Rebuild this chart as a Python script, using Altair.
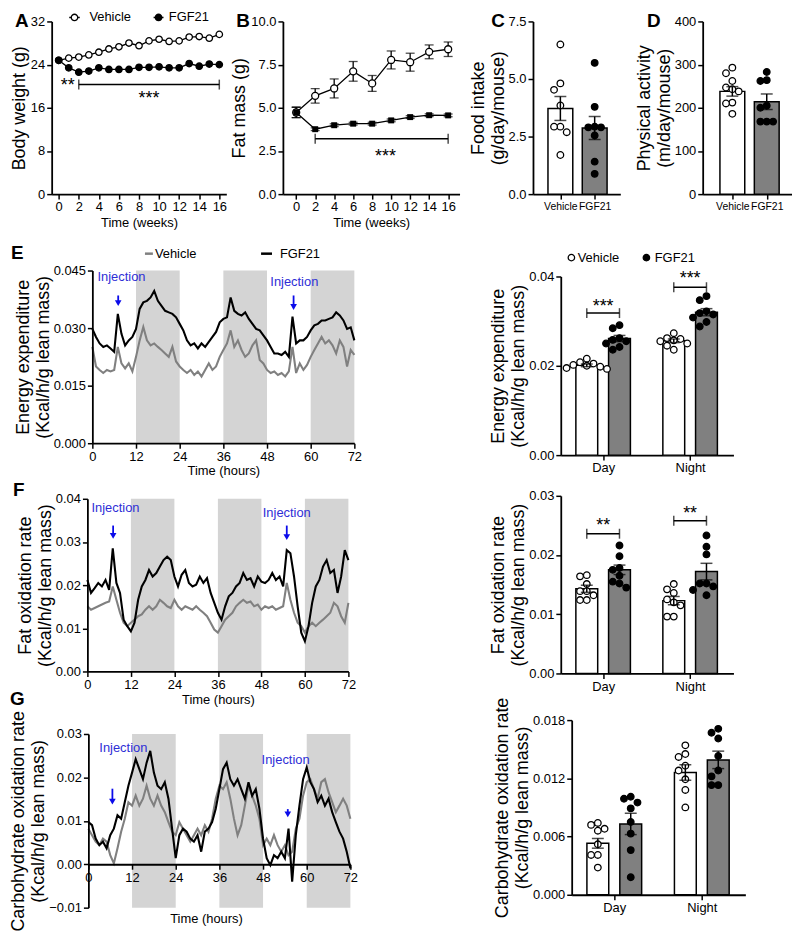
import altair as alt
import pandas as pd

FONT = "Liberation Sans, Arial, sans-serif"
GRAY_LINE = "#808080"
BAR_GRAY = "#808080"
BAND = "#d4d4d4"
BLUE_TXT = "#2e2ed6"
BLUE_ARW = "#0b0bea"
SERIES = ["Vehicle", "FGF21"]

# ---------------- data ----------------
weeks_A = list(range(17))
bw_vehicle = [24.8, 25.2, 25.4, 25.8, 26.3, 26.9, 27.3, 28.0, 27.5, 28.4, 28.7, 28.3, 28.4, 29.1, 29.2, 28.9, 29.6]
bw_fgf21 = [24.8, 23.4, 22.6, 22.8, 23.4, 23.1, 23.1, 23.1, 23.5, 23.5, 23.6, 23.4, 23.4, 24.2, 23.7, 24.1, 24.0]

weeks_B = [0, 2, 4, 6, 8, 10, 12, 14, 16]
fat_vehicle = [4.73, 5.69, 6.12, 7.11, 6.41, 7.77, 7.64, 8.24, 8.39]
fat_vehicle_sem = [0.30, 0.42, 0.55, 0.57, 0.46, 0.52, 0.52, 0.40, 0.42]
fat_fgf21 = [4.73, 3.76, 3.99, 4.08, 4.08, 4.27, 4.46, 4.57, 4.56]
fat_fgf21_sem = [0.30, 0.08, 0.08, 0.08, 0.08, 0.08, 0.08, 0.08, 0.08]

food_mean = [3.72, 2.87]
food_sem = [0.52, 0.50]
food_vehicle = [6.5, 4.81, 4.53, 3.85, 2.93, 2.93, 2.69, 1.7]
food_fgf21 = [5.7, 3.79, 2.9, 2.9, 2.93, 2.55, 1.41, 0.88]

act_mean = [238, 214]
act_sem = [11, 18]
act_vehicle = [293, 280, 262, 247, 243, 238, 212, 210, 186]
act_fgf21 = [283, 264, 262, 205, 200, 168, 168, 168]

hours = list(range(73))
ee_vehicle = [0.0251, 0.0200, 0.0191, 0.0183, 0.0191, 0.0187, 0.0191, 0.0251, 0.0208, 0.0195,
              0.0208, 0.0187, 0.0225, 0.0268, 0.0303, 0.0268, 0.0255, 0.0260, 0.0251, 0.0243,
              0.0234, 0.0225, 0.0251, 0.0213, 0.0200, 0.0191, 0.0183, 0.0191, 0.0178, 0.0187,
              0.0174, 0.0191, 0.0208, 0.0191, 0.0200, 0.0225, 0.0243, 0.0260, 0.0294, 0.0251,
              0.0268, 0.0243, 0.0225, 0.0234, 0.0255, 0.0268, 0.0217, 0.0208, 0.0191, 0.0183,
              0.0187, 0.0178, 0.0183, 0.0174, 0.0187, 0.0251, 0.0183, 0.0208, 0.0191, 0.0204,
              0.0225, 0.0243, 0.0260, 0.0277, 0.0260, 0.0268, 0.0255, 0.0234, 0.0268, 0.0251,
              0.0200, 0.0243, 0.0230]
ee_fgf21 = [0.0298, 0.0277, 0.0260, 0.0251, 0.0255, 0.0247, 0.0238, 0.0337, 0.0285, 0.0255,
            0.0268, 0.0277, 0.0298, 0.0350, 0.0367, 0.0371, 0.0380, 0.0397, 0.0371, 0.0358,
            0.0345, 0.0341, 0.0337, 0.0328, 0.0311, 0.0294, 0.0268, 0.0255, 0.0260, 0.0247,
            0.0260, 0.0251, 0.0264, 0.0277, 0.0290, 0.0315, 0.0324, 0.0328, 0.0380, 0.0345,
            0.0337, 0.0333, 0.0341, 0.0324, 0.0311, 0.0298, 0.0294, 0.0281, 0.0268, 0.0251,
            0.0234, 0.0234, 0.0230, 0.0238, 0.0225, 0.0330, 0.0260, 0.0268, 0.0268, 0.0277,
            0.0294, 0.0307, 0.0311, 0.0320, 0.0320, 0.0324, 0.0328, 0.0341, 0.0333, 0.0320,
            0.0298, 0.0302, 0.0268]
fo_vehicle = [0.0151, 0.0143, 0.0147, 0.0151, 0.0155, 0.0159, 0.0162, 0.0197, 0.0166, 0.0136,
              0.0113, 0.0105, 0.0113, 0.0120, 0.0128, 0.0132, 0.0143, 0.0151, 0.0143, 0.0151,
              0.0166, 0.0159, 0.0151, 0.0147, 0.0166, 0.0151, 0.0143, 0.0151, 0.0147, 0.0143,
              0.0151, 0.0143, 0.0136, 0.0128, 0.0113, 0.0097, 0.0090, 0.0105, 0.0120, 0.0128,
              0.0136, 0.0151, 0.0159, 0.0166, 0.0159, 0.0162, 0.0151, 0.0155, 0.0143, 0.0151,
              0.0147, 0.0151, 0.0143, 0.0147, 0.0151, 0.0205, 0.0166, 0.0136, 0.0113, 0.0105,
              0.0090, 0.0105, 0.0113, 0.0105, 0.0113, 0.0120, 0.0128, 0.0136, 0.0159, 0.0151,
              0.0128, 0.0113, 0.0159]
fo_fgf21 = [0.0212, 0.0182, 0.0193, 0.0205, 0.0197, 0.0212, 0.0189, 0.0285, 0.0205, 0.0182,
            0.0120, 0.0105, 0.0093, 0.0113, 0.0166, 0.0197, 0.0212, 0.0235, 0.0220, 0.0228,
            0.0243, 0.0258, 0.0266, 0.0258, 0.0220, 0.0197, 0.0224, 0.0235, 0.0205, 0.0197,
            0.0201, 0.0220, 0.0205, 0.0216, 0.0182, 0.0159, 0.0136, 0.0120, 0.0151, 0.0174,
            0.0182, 0.0197, 0.0205, 0.0228, 0.0212, 0.0216, 0.0197, 0.0220, 0.0208, 0.0205,
            0.0212, 0.0228, 0.0212, 0.0220, 0.0197, 0.0281, 0.0274, 0.0220, 0.0151, 0.0090,
            0.0070, 0.0105, 0.0159, 0.0197, 0.0212, 0.0243, 0.0258, 0.0228, 0.0235, 0.0182,
            0.0220, 0.0281, 0.0258]
co_vehicle = [0.0082, 0.0067, 0.0052, 0.0044, 0.0059, 0.0052, 0.0021, 0.0002, 0.0037, 0.0075,
              0.0105, 0.0143, 0.0135, 0.0158, 0.0135, 0.0151, 0.0181, 0.0151, 0.0135, 0.0158,
              0.0135, 0.0120, 0.0097, 0.0075, 0.0067, 0.0097, 0.0082, 0.0067, 0.0052, 0.0067,
              0.0082, 0.0067, 0.0090, 0.0075, 0.0105, 0.0151, 0.0181, 0.0173, 0.0189, 0.0151,
              0.0105, 0.0067, 0.0090, 0.0135, 0.0181, 0.0158, 0.0135, 0.0105, 0.0044, 0.0059,
              0.0044, 0.0067, 0.0044, 0.0029, 0.0044, 0.0021, 0.0029, 0.0082, 0.0105, 0.0158,
              0.0189, 0.0196, 0.0173, 0.0151, 0.0189, 0.0196, 0.0166, 0.0143, 0.0120, 0.0135,
              0.0151, 0.0135, 0.0105]
co_fgf21 = [0.0097, 0.0090, 0.0059, 0.0044, 0.0052, 0.0037, 0.0067, 0.0082, 0.0113, 0.0105,
            0.0143, 0.0181, 0.0211, 0.0242, 0.0219, 0.0196, 0.0234, 0.0261, 0.0211, 0.0181,
            0.0173, 0.0189, 0.0151, 0.0082, 0.0014, 0.0067, 0.0082, 0.0075, 0.0059, 0.0052,
            0.0067, 0.0029, 0.0075, 0.0082, 0.0097, 0.0128, 0.0173, 0.0219, 0.0234, 0.0196,
            0.0181, 0.0196, 0.0173, 0.0151, 0.0189, 0.0158, 0.0173, 0.0128, 0.0059, 0.0014,
            -0.0002, 0.0021, 0.0014, 0.0029, 0.0014, 0.0082, -0.0040, 0.0067, 0.0135, 0.0196,
            0.0223, 0.0189, 0.0173, 0.0143, 0.0158, 0.0135, 0.0151, 0.0120, 0.0097, 0.0075,
            0.0059, 0.0029, -0.0009]

night_start = [12, 36, 60]
night_end = [24, 48, 72]

# injection annotations: arrow x, arrow top, arrow head, text x, text y
inj_E = dict(x=[7.1, 55.3], top=[0.0385, 0.0385], head=[0.0365, 0.0355], tx=[8.0, 55.5], ty=[0.0433, 0.0420])
inj_F = dict(x=[7.1, 55.0], top=[0.0338, 0.0338], head=[0.0314, 0.0311], tx=[7.75, 55.0], ty=[0.0379, 0.0368])
inj_G = dict(x=[6.6, 54.8], top=[0.0174, 0.0127], head=[0.0144, 0.0115], tx=[9.6, 54.2], ty=[0.0268, 0.0239])

periods = ["Day", "Night"]
# bar order: Day-Vehicle, Day-FGF21, Night-Vehicle, Night-FGF21
ee_mean = [0.0201, 0.0261, 0.0256, 0.0320]
ee_sem = [0.0003, 0.0007, 0.0004, 0.0008]
ee_points = [[0.0216, 0.0208, 0.0205, 0.0202, 0.0200, 0.0198, 0.0195, 0.0193],
             [0.0291, 0.0284, 0.0262, 0.0258, 0.0255, 0.0250, 0.0242, 0.0236],
             [0.0273, 0.0262, 0.0260, 0.0257, 0.0255, 0.0250, 0.0245, 0.0236],
             [0.0356, 0.0347, 0.0322, 0.0318, 0.0315, 0.0308, 0.0298, 0.0288]]
fo_mean = [0.0143, 0.0175, 0.0123, 0.0172]
fo_sem = [0.0006, 0.0008, 0.0007, 0.0014]
fo_points = [[0.0166, 0.0164, 0.0151, 0.0139, 0.0139, 0.0132, 0.0124, 0.0124],
             [0.0216, 0.0198, 0.0178, 0.0175, 0.0165, 0.0155, 0.0152, 0.0145],
             [0.0151, 0.0142, 0.0136, 0.0125, 0.0120, 0.0115, 0.0096, 0.0096],
             [0.0233, 0.0214, 0.0201, 0.0152, 0.0147, 0.0152, 0.0141, 0.0132]]
co_mean = [0.0053, 0.0073, 0.0126, 0.0139]
co_sem = [0.0005, 0.0011, 0.0008, 0.0009]
co_points = [[0.0074, 0.0072, 0.0068, 0.0066, 0.0052, 0.0041, 0.0041, 0.0028],
             [0.0101, 0.0099, 0.0095, 0.0089, 0.0075, 0.0063, 0.0046, 0.0018],
             [0.0154, 0.0145, 0.0142, 0.0133, 0.0128, 0.0119, 0.0108, 0.0090],
             [0.0171, 0.0167, 0.0161, 0.0143, 0.0128, 0.0122, 0.0113, 0.0113]]

# ---------------- helpers ----------------
one = pd.DataFrame({"k": [0]})


def vtext(txt, x, y, size=13, color="black", weight="normal", align="left", baseline="middle"):
    return alt.Chart(pd.DataFrame({"label": [txt]})).mark_text(
        fontSize=size, color=color, fontWeight=weight, align=align, baseline=baseline
    ).encode(text="label:N", x=alt.value(x), y=alt.value(y))


def vline(x0, x1, y, color="black", width=1.5):
    return alt.Chart(one).mark_rule(color=color, strokeWidth=width).encode(
        x=alt.value(x0), x2=alt.value(x1), y=alt.value(y))


def vdot(x, y, fill, size=42):
    return alt.Chart(one).mark_point(filled=True, fill=fill, stroke="black", strokeWidth=1.3,
                                     size=size, opacity=1).encode(x=alt.value(x), y=alt.value(y))


def letter(ch, x, y):
    return vtext(ch, x, y, size=19, weight="bold", baseline="alphabetic")


def spacer(w, h):
    return alt.Chart(one).mark_point(opacity=0).encode(
        x=alt.value(0), y=alt.value(0)).properties(width=w, height=h)


def swarm_px(vals, ppu, d=7.2):
    order = sorted(range(len(vals)), key=lambda i: -vals[i])
    placed, out = [], [0.0] * len(vals)
    for i in order:
        y = vals[i] * ppu
        x = 0.0
        for k in (0, -1, 1, -2, 2, -3, 3):
            x = k * d
            if all((x - px) ** 2 + (y - py) ** 2 >= (d * 0.98) ** 2 for px, py in placed):
                break
        placed.append((x, y))
        out[i] = x
    return out


def brackets(X, Y, x0s, x1s, ys, sx, sy, labels, size=18):
    rule = alt.Chart(pd.DataFrame({"x": x0s, "x2": x1s, "y": ys})).mark_rule(
        color="black", strokeWidth=1.5).encode(x=X, x2="x2:Q", y=Y)
    ticks = alt.Chart(pd.DataFrame({"x": list(x0s) + list(x1s), "y": list(ys) + list(ys)})).mark_tick(
        orient="vertical", size=10, thickness=1.5, color="black").encode(x=X, y=Y)
    stars = alt.Chart(pd.DataFrame({"x": sx, "y": sy, "label": labels})).mark_text(
        fontSize=size, baseline="alphabetic", dy=10, color="black").encode(x=X, y=Y, text="label:N")
    return [rule, ticks, stars]


fill_pts = alt.Fill("series:N", scale=alt.Scale(domain=SERIES, range=["white", "black"]), legend=None)
fill_bars = alt.Fill("series:N", scale=alt.Scale(domain=SERIES, range=["white", BAR_GRAY]), legend=None)


def bar_panel(pos, series, means, sems, pts, xdom, xvals, xlabels, ydom, yvals, yfmt, ytitle,
              w, h, bar_w, label_size, extra=()):
    ppx = w / (xdom[1] - xdom[0])
    ppy = h / (ydom[1] - ydom[0])
    expr = " : ".join(f"datum.value == {v} ? '{l}'" for v, l in zip(xvals, xlabels)) + " : ''"
    X = alt.X("x:Q", scale=alt.Scale(domain=xdom, nice=False, zero=False),
              axis=alt.Axis(values=xvals, labelExpr=expr, title=None, labelFontSize=label_size))
    Y = alt.Y("y:Q", stack=None, scale=alt.Scale(domain=ydom, nice=False, zero=False),
              axis=alt.Axis(values=yvals, format=yfmt, title=ytitle, titlePadding=1))
    lo = [m - s for m, s in zip(means, sems)]
    hi = [m + s for m, s in zip(means, sems)]
    bars = pd.DataFrame({"x": pos, "y": means, "series": series})
    err = pd.DataFrame({"x": pos, "y": lo, "y2": hi})
    caps = pd.DataFrame({"x": list(pos) * 2, "y": lo + hi})
    rows = []
    for p, s, vals in zip(pos, series, pts):
        offs = swarm_px(vals, ppy)
        for v, o in zip(vals, offs):
            rows.append({"x": p + o / ppx, "y": v, "series": s})
    pdf = pd.DataFrame(rows)
    layers = [
        alt.Chart(bars).mark_bar(size=bar_w, stroke="black", strokeWidth=1.5).encode(x=X, y=Y, fill=fill_bars),
        alt.Chart(pdf).mark_point(filled=True, size=44, stroke="black", strokeWidth=1.3, opacity=1).encode(
            x=X, y=Y, fill=fill_pts),
        alt.Chart(err).mark_rule(color="black", strokeWidth=1.5).encode(x=X, y=Y, y2="y2:Q"),
        alt.Chart(caps).mark_tick(orient="horizontal", size=12, thickness=1.5, color="black").encode(x=X, y=Y),
    ]
    for e in extra:
        layers += e(X, Y)
    return layers


def line_panel(veh, fgf, ydom, yvals, yfmt, ytitle, w, h, inj, zero_axis=False):
    off = -h * (0 - ydom[0]) / (ydom[1] - ydom[0]) if zero_axis else 0
    X = alt.X("x:Q", scale=alt.Scale(domain=[0, 72], nice=False, zero=False),
              axis=alt.Axis(values=list(range(0, 73, 12)), title=None if zero_axis else "Time (hours)",
                            titleFontSize=13, titlePadding=2, offset=off, zindex=1))
    Y = alt.Y("y:Q", scale=alt.Scale(domain=ydom, nice=False, zero=False),
              axis=alt.Axis(values=yvals, format=yfmt, title=ytitle, titlePadding=1, zindex=1))
    bands = pd.DataFrame({"x": night_start, "x2": night_end, "y": [ydom[0]] * 3, "y2": [ydom[1]] * 3})
    layers = [
        alt.Chart(bands).mark_rect(color=BAND).encode(x=X, x2="x2:Q", y=Y, y2="y2:Q"),
        alt.Chart(pd.DataFrame({"x": hours, "y": veh})).mark_line(color=GRAY_LINE, strokeWidth=2.1).encode(x=X, y=Y),
        alt.Chart(pd.DataFrame({"x": hours, "y": fgf})).mark_line(color="black", strokeWidth=2.1).encode(x=X, y=Y),
        alt.Chart(pd.DataFrame({"x": inj["x"], "y": inj["top"], "y2": inj["head"]})).mark_rule(
            color=BLUE_ARW, strokeWidth=1.8).encode(x=X, y=Y, y2="y2:Q"),
        alt.Chart(pd.DataFrame({"x": inj["x"], "y": inj["head"]})).mark_point(
            shape="triangle-down", filled=True, color=BLUE_ARW, size=45, opacity=1).encode(x=X, y=Y),
        alt.Chart(pd.DataFrame({"x": inj["tx"], "y": inj["ty"], "label": ["Injection", "Injection"]})).mark_text(
            color=BLUE_TXT, fontSize=13, baseline="middle").encode(x=X, y=Y, text="label:N"),
    ]
    return layers


# ---------------- panel A ----------------
XA = alt.X("x:Q", scale=alt.Scale(domain=[-0.7, 16.7], nice=False, zero=False),
           axis=alt.Axis(values=list(range(0, 17, 2)), title="Time (weeks)", titleFontSize=13, titlePadding=3))
YA = alt.Y("y:Q", scale=alt.Scale(domain=[0, 32], nice=False, zero=False),
           axis=alt.Axis(values=[0, 8, 16, 24, 32], title="Body weight (g)", titlePadding=2))
dfA = pd.DataFrame({"x": weeks_A * 2, "y": bw_vehicle + bw_fgf21, "series": ["Vehicle"] * 17 + ["FGF21"] * 17})
A_layers = [
    alt.Chart(dfA).mark_line(color="black", strokeWidth=1.3).encode(x=XA, y=YA, detail="series:N"),
    alt.Chart(dfA).mark_point(filled=True, size=42, stroke="black", strokeWidth=1.3, opacity=1).encode(
        x=XA, y=YA, fill=fill_pts),
]
A_layers += brackets(XA, YA, [2], [16], [20.3], [9.0], [18.6], ["***"])
A_layers.append(alt.Chart(pd.DataFrame({"x": [0.9], "y": [21.0], "label": ["**"]})).mark_text(
    fontSize=18, baseline="alphabetic", dy=10).encode(x=XA, y=YA, text="label:N"))
A_layers += [letter("A", -37, 6),
             vline(17.7, 28.3, -4), vdot(23, -4, "white"), vtext("Vehicle", 38, -4),
             vline(102.7, 112.7, -4), vdot(107.7, -4, "black"), vtext("FGF21", 118, -4)]
panelA = alt.layer(*A_layers).properties(width=176, height=174)

# ---------------- panel B ----------------
XB = alt.X("x:Q", scale=alt.Scale(domain=[-1.4, 17.2], nice=False, zero=False),
           axis=alt.Axis(values=list(range(0, 17, 2)), title="Time (weeks)", titleFontSize=13, titlePadding=3))
YB = alt.Y("y:Q", scale=alt.Scale(domain=[0, 10], nice=False, zero=False),
           axis=alt.Axis(values=[0, 2.5, 5, 7.5, 10], format=".1f", title="Fat mass (g)", titlePadding=2))
B_layers = []
for means, sems in ((fat_vehicle, fat_vehicle_sem), (fat_fgf21, fat_fgf21_sem)):
    lo = [m - s for m, s in zip(means, sems)]
    hi = [m + s for m, s in zip(means, sems)]
    B_layers.append(alt.Chart(pd.DataFrame({"x": weeks_B, "y": means})).mark_line(
        color="black", strokeWidth=1.3).encode(x=XB, y=YB))
    B_layers.append(alt.Chart(pd.DataFrame({"x": weeks_B, "y": lo, "y2": hi})).mark_rule(
        color="black", strokeWidth=1.3).encode(x=XB, y=YB, y2="y2:Q"))
    B_layers.append(alt.Chart(pd.DataFrame({"x": weeks_B * 2, "y": lo + hi})).mark_tick(
        orient="horizontal", size=9, thickness=1.3, color="black").encode(x=XB, y=YB))
B_layers += [
    alt.Chart(pd.DataFrame({"x": weeks_B, "y": fat_vehicle})).mark_point(
        filled=True, fill="white", stroke="black", strokeWidth=1.3, size=50, opacity=1).encode(x=XB, y=YB),
    alt.Chart(pd.DataFrame({"x": weeks_B, "y": fat_fgf21})).mark_point(
        shape="square", filled=True, color="black", size=36, opacity=1).encode(x=XB, y=YB),
]
B_layers += brackets(XB, YB, [2], [16], [3.21], [9.4], [2.46], ["***"])
B_layers.append(letter("B", -47, 6))
panelB = alt.layer(*B_layers).properties(width=178, height=174)

# ---------------- panels C, D ----------------
C_layers = bar_panel([0, 1], SERIES, food_mean, food_sem, [food_vehicle, food_fgf21],
                     [-0.654, 1.603], [0, 1], SERIES, [0, 7.5], [0, 2.5, 5, 7.5], ".1f",
                     ["Food intake", "(g/day/mouse)"], 88, 174, 25, 10.5)
C_layers.append(letter("C", -42, 6))
panelC = alt.layer(*C_layers).resolve_scale(fill="independent").properties(width=88, height=174)

D_layers = bar_panel([0, 1], SERIES, act_mean, act_sem, [act_vehicle, act_fgf21],
                     [-0.718, 1.590], [0, 1], SERIES, [0, 400], [0, 100, 200, 300, 400], "d",
                     ["Physical activity", "(m/day/mouse)"], 90, 174, 25, 10.5)
D_layers.append(letter("D", -56, 6))
panelD = alt.layer(*D_layers).resolve_scale(fill="independent").properties(width=90, height=174)

# ---------------- row E ----------------
E_layers = line_panel(ee_vehicle, ee_fgf21, [0, 0.045], [0, 0.015, 0.03, 0.045], ".3f",
                      ["Energy expenditure", "(Kcal/h/g lean mass)"], 264, 174, inj_E)
E_layers += [letter("E", -82, -12),
             vline(53, 61, -17, GRAY_LINE, 2.5), vtext("Vehicle", 63, -17),
             vline(170, 181, -17, "black", 2.5), vtext("FGF21", 189, -17)]
panelE = alt.layer(*E_layers).properties(width=264, height=174)

bar_pos = [-0.188, 0.188, 0.812, 1.188]
bar_series = SERIES * 2
RDOM = [-0.430, 1.441]

ER_layers = bar_panel(bar_pos, bar_series, ee_mean, ee_sem, ee_points, RDOM, [0, 1], periods,
                      [0, 0.04], [0, 0.02, 0.04], ".2f", ["Energy expenditure", "(Kcal/h/g lean mass)"],
                      174, 180, 22, 13,
                      extra=[lambda X, Y: brackets(X, Y, [-0.188, 0.812], [0.188, 1.188], [0.0318, 0.0376],
                                                    [0, 1], [0.0343, 0.0406], ["***", "***"])])
ER_layers += [vdot(10.7, -19, "white"), vtext("Vehicle", 17, -19),
              vdot(86.3, -19, "black"), vtext("FGF21", 94.7, -19)]
panelER = alt.layer(*ER_layers).resolve_scale(fill="independent").properties(width=174, height=180)

# ---------------- row F ----------------
F_layers = line_panel(fo_vehicle, fo_fgf21, [0, 0.04], [0, 0.01, 0.02, 0.03, 0.04], ".2f",
                      ["Fat oxidation rate", "(Kcal/h/g lean mass)"], 263, 174, inj_F)
F_layers += [letter("F", -75, -3)]
panelF = alt.layer(*F_layers).properties(width=263, height=174)

FR_layers = bar_panel(bar_pos, bar_series, fo_mean, fo_sem, fo_points, RDOM, [0, 1], periods,
                      [0, 0.03], [0, 0.01, 0.02, 0.03], ".2f", ["Fat oxidation rate", "(Kcal/h/g lean mass)"],
                      174, 179, 22, 13,
                      extra=[lambda X, Y: brackets(X, Y, [-0.188, 0.812], [0.188, 1.188], [0.0236, 0.0258],
                                                    [0, 1], [0.0257, 0.0277], ["**", "**"])])
panelFR = alt.layer(*FR_layers).resolve_scale(fill="independent").properties(width=174, height=179)

# ---------------- row G ----------------
G_layers = line_panel(co_vehicle, co_fgf21, [-0.01, 0.03], [-0.01, 0, 0.01, 0.02, 0.03], ".2f",
                      ["Carbohydrate oxidation rate", "(Kcal/h/g lean mass)"], 264, 175, inj_G, zero_axis=True)
G_layers += [letter("G", -79, -29), vtext("Time (hours)", 119, 186, align="center")]
panelG = alt.layer(*G_layers).properties(width=264, height=175)

GR_layers = bar_panel(bar_pos, bar_series, co_mean, co_sem, co_points, RDOM, [0, 1], periods,
                      [0, 0.018], [0, 0.006, 0.012, 0.018], ".3f",
                      ["Carbohydrate oxidation rate", "(Kcal/h/g lean mass)"], 175, 176, 22, 13)
panelGR = alt.layer(*GR_layers).resolve_scale(fill="independent").properties(width=175, height=176)


# ---------------- layout ----------------
def row(*items):
    return alt.hconcat(*items, spacing=0, bounds="flush")


chart = alt.vconcat(
    row(spacer(41, 1), panelA, spacer(57, 1), panelB, spacer(74, 1), panelC, spacer(83, 1), panelD),
    spacer(1, 251),
    row(spacer(82, 1), panelE),
    spacer(1, 6),
    row(spacer(554, 1), panelER),
    spacer(1, 221),
    row(spacer(554, 1), panelFR),
    spacer(1, 3),
    row(spacer(77, 1), panelF),
    spacer(1, 223),
    row(spacer(565, 1), panelGR),
    spacer(1, 14),
    row(spacer(78, 1), panelG),
    spacing=0, bounds="flush",
).properties(
    padding={"left": 0, "top": 0, "right": 0, "bottom": 0}
).configure(font=FONT).configure_view(stroke=None).configure_axis(
    domainColor="black", domainWidth=1.8, tickColor="black", tickWidth=1.5, tickSize=5,
    labelColor="black", titleColor="black", labelFontSize=13, titleFontSize=18,
    titleFontWeight="normal", grid=False, labelPadding=2, labelFlush=False, labelOverlap=False,
    titleLineHeight=20
)

chart.save("out.html", embed_options={"renderer": "svg", "actions": False})
